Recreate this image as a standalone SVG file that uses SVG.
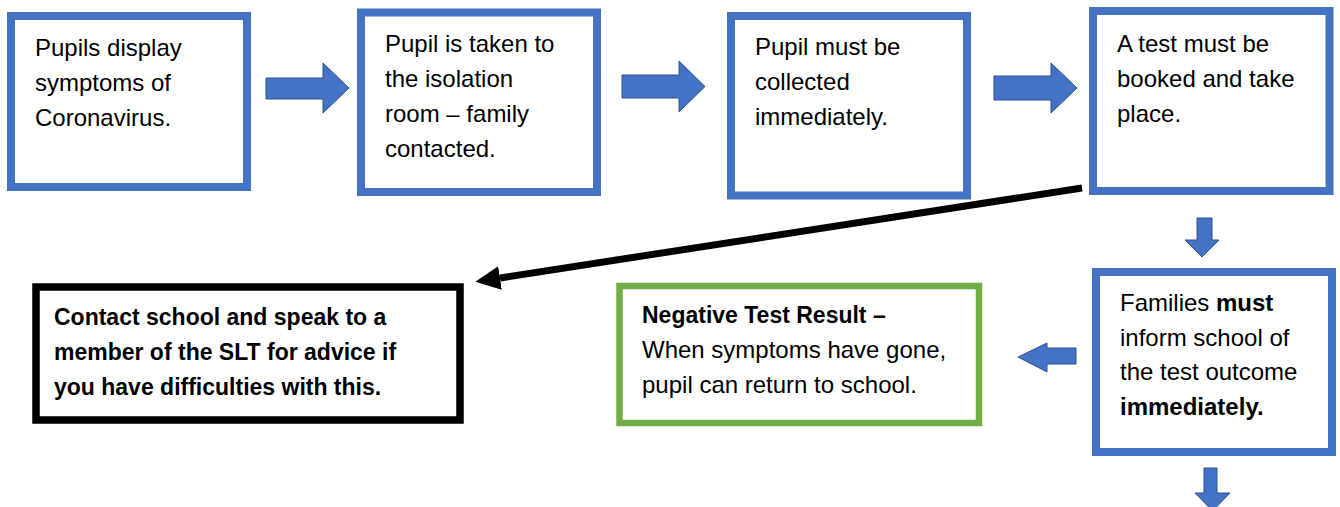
<svg xmlns="http://www.w3.org/2000/svg" width="1340" height="507" viewBox="0 0 1340 507">
<style>
  .box { fill: #ffffff; stroke: #4472C4; stroke-width: 8; }
  .green { fill: #ffffff; stroke: #70AD47; stroke-width: 6.5; }
  .black { fill: #ffffff; stroke: #000000; stroke-width: 7.5; }
  .t { font-family: "Liberation Sans", Arial, sans-serif; font-size: 24px; fill: #000000; }
  .b { font-family: "Liberation Sans", Arial, sans-serif; font-size: 23px; font-weight: bold; fill: #000000; }
  .blk { fill: #4472C4; stroke: #2F528F; stroke-width: 1; }
  .conn { stroke: #000000; stroke-width: 7; fill: none; }
</style>
<defs>
  <marker id="ah" markerUnits="userSpaceOnUse" markerWidth="26" markerHeight="26" refX="0" refY="12" orient="auto">
    <path d="M0,0 L25,12 L0,24 Z" fill="#000000"/>
  </marker>
</defs>
<rect width="1340" height="507" fill="#ffffff"/>

<g id="connectors">
  <polygon class="blk" points="266,78 323,78 323,63 349,88 323,113 323,99 266,99"/>
  <polygon class="blk" points="622,75 679,75 679,61 705,86.5 679,112 679,98 622,98"/>
  <polygon class="blk" points="994,76 1051,76 1051,63 1077,88 1051,113 1051,100 994,100"/>
  <polygon class="blk" points="1197,218 1212,218 1212,240 1219,240 1202,257 1185,240 1197,240"/>
  <polygon class="blk" points="1076,348 1047,348 1047,343 1018,357 1047,372 1047,364 1076,364"/>
  <polygon class="blk" points="1204,468 1217,468 1217,493 1230,493 1212.5,511 1195,493 1204,493"/>
  <line class="conn" x1="1082" y1="188" x2="500" y2="278" marker-end="url(#ah)"/>
</g>

<g id="node-symptoms">
  <rect class="box" x="11" y="16" width="236" height="171"/>
  <text class="t"><tspan x="35" y="56">Pupils display</tspan><tspan x="35" y="91">symptoms of</tspan><tspan x="35" y="126">Coronavirus.</tspan></text>
</g>

<g id="node-isolation">
  <rect class="box" x="361" y="12.5" width="236" height="179.5"/>
  <text class="t"><tspan x="385" y="52">Pupil is taken to</tspan><tspan x="385" y="87">the isolation</tspan><tspan x="385" y="122">room – family</tspan><tspan x="385" y="157">contacted.</tspan></text>
</g>

<g id="node-collected">
  <rect class="box" x="731" y="16" width="236" height="179.5"/>
  <text class="t"><tspan x="755" y="55">Pupil must be</tspan><tspan x="755" y="90">collected</tspan><tspan x="755" y="125">immediately.</tspan></text>
</g>

<g id="node-test">
  <rect class="box" x="1093" y="11" width="236.5" height="180"/>
  <text class="t"><tspan x="1117" y="52">A test must be</tspan><tspan x="1117" y="87">booked and take</tspan><tspan x="1117" y="122">place.</tspan></text>
</g>

<g id="node-inform">
  <rect class="box" x="1096" y="272" width="236" height="180"/>
  <text class="t"><tspan x="1120" y="311">Families <tspan font-weight="bold">must</tspan></tspan><tspan x="1120" y="346">inform school of</tspan><tspan x="1120" y="380">the test outcome</tspan><tspan x="1120" y="415" font-weight="bold">immediately.</tspan></text>
</g>

<g id="node-negative">
  <rect class="green" x="619.5" y="286" width="359.5" height="137"/>
  <text class="t"><tspan x="642" y="323" font-weight="bold" font-size="23">Negative Test Result –</tspan><tspan x="642" y="358">When symptoms have gone,</tspan><tspan x="642" y="393">pupil can return to school.</tspan></text>
</g>

<g id="node-contact">
  <rect class="black" x="36" y="287" width="424" height="133"/>
  <text class="b"><tspan x="54" y="325">Contact school and speak to a</tspan><tspan x="54" y="360">member of the SLT for advice if</tspan><tspan x="54" y="395">you have difficulties with this.</tspan></text>
</g>
</svg>
